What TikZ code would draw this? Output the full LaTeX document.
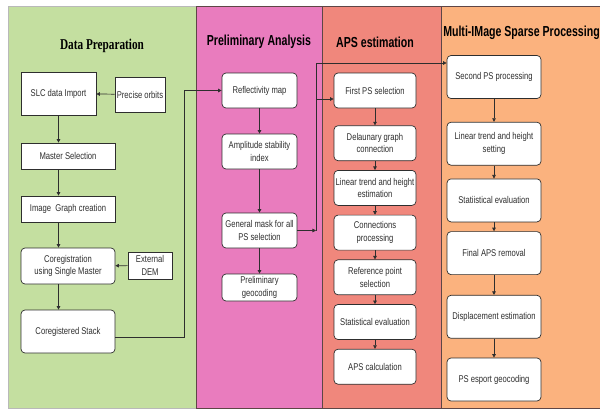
\documentclass[tikz,border=0pt]{standalone}
\usepackage{fontspec}
\setmainfont{Liberation Sans}
\newfontfamily\boxfont{Liberation Sans}[FakeStretch=0.78]
\newfontfamily\headfont{Liberation Sans}[FakeStretch=0.73]
\newfontfamily\headserif{Liberation Serif}[FakeStretch=0.75]
\usetikzlibrary{positioning,arrows.meta,calc}
\definecolor{prepgreen}{HTML}{C4DFA0}
\definecolor{prelpink}{HTML}{E97CBE}
\definecolor{apsred}{HTML}{F0877C}
\definecolor{msporange}{HTML}{FBB27E}
\definecolor{laneedge}{HTML}{5E4646}
\definecolor{ink}{HTML}{2E2E2E}
\tikzset{
  lane/.style={draw=laneedge,line width=0.6pt},
  sq/.style={draw=ink,fill=white,line width=0.7pt,align=center,inner sep=1pt,text=ink,font=\boxfont\fontsize{9.8}{12.5}\selectfont},
  rnd/.style={sq,rounded corners=4pt},
  ttl/.style={font=\headfont\bfseries\fontsize{14.5}{16}\selectfont},
  arr/.style={-{Triangle[length=3.6pt,width=3.6pt]},draw=ink,line width=0.7pt},
}
\begin{document}
\begin{tikzpicture}[x=1pt,y=-1pt]
  \useasboundingbox (0,0) rectangle (600,410);
  % swim lanes
  \fill[white] (0,0) rectangle (600,410);
  \draw[fill=prepgreen,draw=gray!55,line width=0.6pt] (8,6) rectangle (196,408.5);
  \draw[lane,fill=prelpink] (196,6) rectangle (322,408.5);
  \draw[lane,fill=apsred] (322,6) rectangle (441,408.5);
  \draw[lane,fill=msporange] (441,6) rectangle (603,408.5);
  \node[font=\headserif\bfseries\fontsize{15}{17}\selectfont] (t1) at (102,46) {Data Preparation};
  \node[ttl] (t2) at (259,42) {Preliminary Analysis};
  \node[ttl] (t3) at (375,42) {APS estimation};
  \node[ttl] (t4) at (521.5,33) {Multi-IMage Sparse Processing};

  % data preparation
  \node[sq,minimum width=75,minimum height=43] (slc) at (58.5,93.5) {SLC data Import};
  \node[sq,minimum width=50,minimum height=35] (prec) at (140,94.5) {Precise orbits};
  \node[sq,minimum width=94,minimum height=26] (master) at (68,156) {Master Selection};
  \node[sq,minimum width=94,minimum height=26] (graph) at (68,209) {Image\ \ Graph creation};
  \node[rnd,minimum width=94,minimum height=36] (coreg) at (68,266) {Coregistration\\using Single Master};
  \node[sq,minimum width=44,minimum height=27] (dem) at (150,265.5) {External\\DEM};
  \node[rnd,minimum width=94,minimum height=43] (stack) at (68,331.5) {Coregistered Stack};

  % preliminary analysis
  \node[rnd,minimum width=75,minimum height=35] (refl) at (259.5,90.5) {Reflectivity map};
  \node[rnd,minimum width=75,minimum height=35] (amp) at (259.5,151.5) {Amplitude stability\\index};
  \node[rnd,minimum width=75,minimum height=35] (mask) at (259.5,230.5) {General mask for all\\PS selection};
  \node[rnd,minimum width=75,minimum height=27] (prelim) at (259.5,287.5) {Preliminary\\geocoding};

  % APS estimation
  \begin{scope}[every node/.append style={rnd,minimum width=82,minimum height=35}]
    \node (first) at (375,90.5) {First PS selection};
    \node[below=17pt of first] (delau) {Delaunary graph\\connection};
    \node[below=9pt of delau] (lin) {Linear trend and height\\estimation};
    \node[below=9pt of lin] (conn) {Connections\\processing};
    \node[below=9pt of conn] (refp) {Reference point\\selection};
    \node[below=9pt of refp] (stat) {Statistical evaluation};
    \node[below=9pt of stat] (apsc) {APS calculation};
  \end{scope}

  % multi-image sparse processing
  \begin{scope}[every node/.append style={rnd,minimum width=94,minimum height=43}]
    \node (second) at (494,77) {Second PS processing};
    \node[below=23pt of second] (lints) {Linear trend and height\\setting};
    \node[below=13pt of lints] (stat2) {Statiistical evaluation};
    \node[below=9pt of stat2] (final) {Final APS removal};
    \node[below=20pt of final] (disp) {Displacement estimation};
    \node[below=19pt of disp] (esport) {PS esport geocoding};
  \end{scope}

  % connectors
  \coordinate (bend1) at (184,90.5);
  \coordinate (bus) at (316,63);
  \coordinate (tap) at (316,99);
  \draw[arr] (prec) -- (slc);
  \draw[arr] (dem) -- (coreg);
  \draw[arr] (slc.south) -- (slc.south |- master.north);
  \draw[arr] (slc.south |- master.south) -- (slc.south |- graph.north);
  \draw[arr] (slc.south |- graph.south) -- (slc.south |- coreg.north);
  \draw[arr] (slc.south |- coreg.south) -- (slc.south |- stack.north);
  \draw[arr] ([yshift=-5.5pt]stack.east) -| (bend1) -- (refl.west);
  \draw[arr] (refl) -- (amp);
  \draw[arr] (amp) -- (mask);
  \draw[arr] (mask) -- (prelim);
  \draw[arr] (mask.east) -- (mask.east -| bus);
  \draw[draw=ink,line width=0.7pt] (mask.east -| bus) -- (bus);
  \draw[arr] (bus) -- (bus -| second.west);
  \draw[arr] (tap) -- (tap -| first.west);
  \draw[arr] (first) -- (delau);
  \draw[arr] (delau) -- (lin);
  \draw[arr] (lin) -- (conn);
  \draw[arr] (conn) -- (refp);
  \draw[arr] (refp) -- (stat);
  \draw[arr] (stat) -- (apsc);
  \draw[arr] (second) -- (lints);
  \draw[arr] (lints) -- (stat2);
  \draw[arr] (stat2) -- (final);
  \draw[arr] (final) -- (disp);
  \draw[arr] (disp) -- (esport);
\end{tikzpicture}
\end{document}
